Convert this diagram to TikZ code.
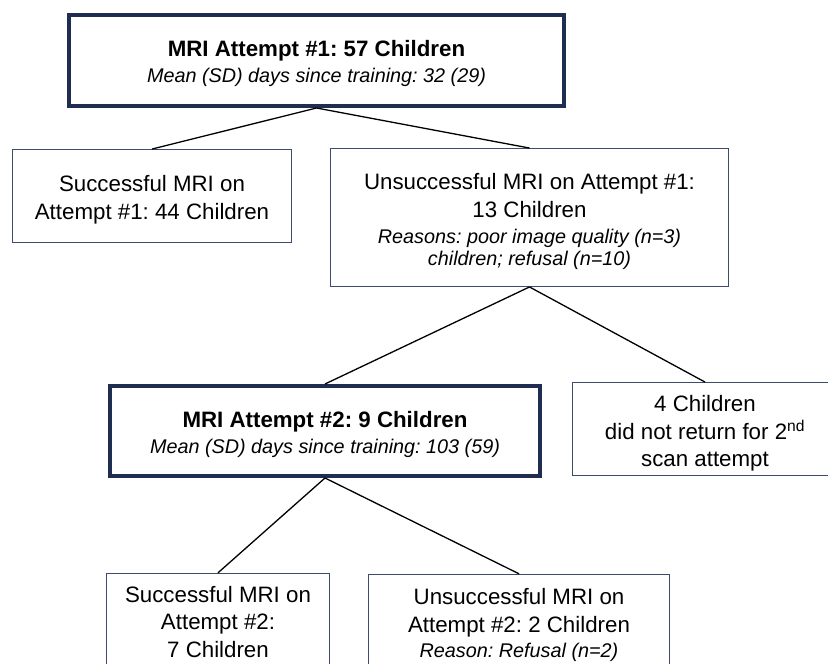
\documentclass[tikz,border=0pt]{standalone}
\usepackage{fontspec}
\setmainfont{Liberation Sans}
\frenchspacing
\usetikzlibrary{positioning}
\definecolor{boxnavy}{HTML}{1F2D50}
\definecolor{boxslate}{HTML}{3E4C6C}
\newcommand{\mainfont}{\fontsize{22.3}{27.5}\selectfont}
\newcommand{\notefont}{\fontsize{19.8}{22.5}\selectfont\itshape}
% strut that pushes a node's text a little lower in its box
\newcommand{\lowstrut}[1]{\rule{0pt}{#1}}
\tikzset{
    thinbox/.style={draw=boxslate, line width=1.4pt, align=center, inner sep=0pt, font=\mainfont},
    thickbox/.style={draw=boxnavy, line width=4pt, align=center, inner sep=0pt, font=\mainfont},
    branch/.style={draw=black, line width=1.3pt}
}

\begin{document}
\begin{tikzpicture}[x=1pt, y=-1pt]
    \useasboundingbox (0,0) rectangle (828,664);
    \clip (0,0) rectangle (828,664);
    % first attempt
    \node[thickbox, minimum width=495pt, minimum height=91pt] (attempt_one) at (316.5,60.5)
        {\lowstrut{22pt}\textbf{MRI Attempt \#1: 57 Children}\\[-1.5pt]{\notefont Mean (SD) days since training: 32 (29)}};
    \node[thinbox, minimum width=278.5pt, minimum height=92.5pt] (success_one) at (152,196)
        {\lowstrut{24pt}Successful MRI on\\Attempt \#1: 44 Children};
    \node[thinbox, minimum width=397.5pt, minimum height=137.5pt] (fail_one) at (529.5,217.5)
        {\lowstrut{24pt}Unsuccessful MRI on Attempt \#1:\\13 Children\\[-1.5pt]{\notefont Reasons: poor image quality (n=3)}\\[-5.5pt]{\notefont children; refusal (n=10)}};
    % second attempt
    \node[thickbox, minimum width=430pt, minimum height=90pt] (attempt_two) at (325,431)
        {\lowstrut{24pt}\textbf{MRI Attempt \#2: 9 Children}\\[-1.5pt]{\notefont Mean (SD) days since training: 103 (59)}};
    \node[thinbox, minimum width=264.5pt, minimum height=92.5pt] (no_return) at (705,429)
        {\lowstrut{25pt}4 Children\\did not return for 2\textsuperscript{nd}\\scan attempt};
    \node[thinbox, minimum width=222.5pt, minimum height=97pt] (success_two) at (218,622)
        {Successful MRI on\\Attempt \#2:\\7 Children};
    \node[thinbox, minimum width=300.5pt, minimum height=97pt] (fail_two) at (519,623)
        {\lowstrut{21pt}Unsuccessful MRI on\\Attempt \#2: 2 Children\\[-2pt]{\notefont Reason: Refusal (n=2)}};
    % draw branches
    \draw[branch] (attempt_one.south) -- (success_one.north);
    \draw[branch] (attempt_one.south) -- (fail_one.north);
    \draw[branch] (fail_one.south) -- (attempt_two.north);
    \draw[branch] (fail_one.south) -- (no_return.north);
    \draw[branch] (attempt_two.south) -- (success_two.north);
    \draw[branch] (attempt_two.south) -- (fail_two.north);
\end{tikzpicture}
\end{document}
